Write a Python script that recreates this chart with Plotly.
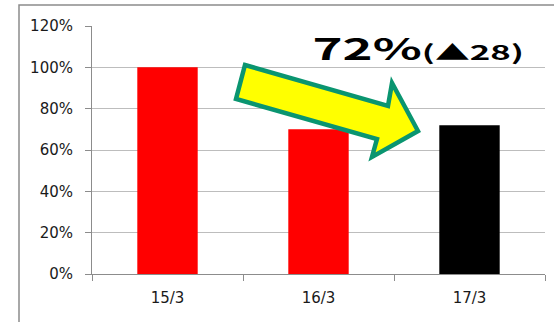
import plotly.graph_objects as go

# Data
periods = ["15/3", "16/3", "17/3"]
ratios = [100, 70, 72]          # percent
bar_colors = ["#FF0000", "#FF0000", "#000000"]
headline_value = "72%"
headline_delta = "(▲28)"

W, H = 554, 322
ML, MR, MT, MB = 92, 9, 26, 48
PW, PH = W - ML - MR, H - MT - MB


def to_paper(px, py):
    """Convert a figure pixel position into paper coordinates."""
    return (px - ML) / PW, (H - MB - py) / PH


fig = go.Figure(
    go.Bar(
        x=periods,
        y=ratios,
        marker=dict(color=bar_colors, line=dict(width=0)),
        width=0.4,
        hoverinfo="skip",
    )
)

# Outer chart frame (top and left edges visible)
fx0, fy0 = to_paper(19, 5)
fx1, fy1 = to_paper(W + 4, H + 4)
shapes = [
    dict(type="rect", xref="paper", yref="paper",
         x0=fx0, y0=fy1, x1=fx1, y1=fy0,
         line=dict(color="#8C8C8C", width=1.5), fillcolor="rgba(0,0,0,0)",
         layer="below"),
]

# Block arrow pointing down-right toward the latest bar
arrow_px = [(245, 65), (388, 106), (392, 83), (418, 131),
            (372, 157), (377, 139), (236, 99)]
pts = [to_paper(x, y) for x, y in arrow_px]
path = "M " + " L ".join(f"{x:.4f},{y:.4f}" for x, y in pts) + " Z"
shapes.append(dict(type="path", xref="paper", yref="paper", path=path,
                   fillcolor="#FFFF00", line=dict(color="#0A9570", width=4.5)))

hx, hy = to_paper(418, 47)
fig.update_layout(
    width=W, height=H,
    margin=dict(l=ML, r=MR, t=MT, b=MB, pad=0),
    paper_bgcolor="white", plot_bgcolor="white",
    showlegend=False,
    shapes=shapes,
    annotations=[dict(
        xref="paper", yref="paper", x=hx, y=hy,
        xanchor="center", yanchor="middle", showarrow=False,
        text=(f"<b>{headline_value}"
              f"<span style='font-size:20.5px'>{headline_delta}</span></b>"),
        font=dict(family="Noto Sans CJK JP", size=30, color="black"),
    )],
    xaxis=dict(
        showgrid=False, showline=True, linecolor="#8C8C8C", linewidth=1,
        ticks="outside", tickson="boundaries", ticklen=6, tickcolor="#8C8C8C",
        tickfont=dict(family="DejaVu Sans", size=15, color="#1a1a1a"),
        ticklabelstandoff=10,
        range=[-0.5, 2.5], fixedrange=True,
    ),
    yaxis=dict(
        range=[0, 120], dtick=20, ticksuffix="%",
        showgrid=True, gridcolor="#BDBDBD", gridwidth=1,
        showline=True, linecolor="#8C8C8C", linewidth=1,
        ticks="outside", ticklen=6, tickcolor="#8C8C8C",
        tickfont=dict(family="DejaVu Sans", size=15, color="#1a1a1a"),
        ticklabelstandoff=9,
        zeroline=False, fixedrange=True,
    ),
)

# The headline is set in a horizontally widened face: stretch it about its centre.
widen_headline = """
var gd = document.getElementById('{plot_id}');
function widen() {
  gd.querySelectorAll('text.annotation-text').forEach(function (t) {
    var b = t.getBBox();
    var cx = b.x + b.width / 2;
    t.setAttribute('transform',
      'translate(' + cx + ',0) scale(1.7,1) translate(' + (-cx) + ',0)');
  });
}
widen();
gd.on('plotly_afterplot', widen);
"""

fig.write_html("out.html", post_script=widen_headline)
